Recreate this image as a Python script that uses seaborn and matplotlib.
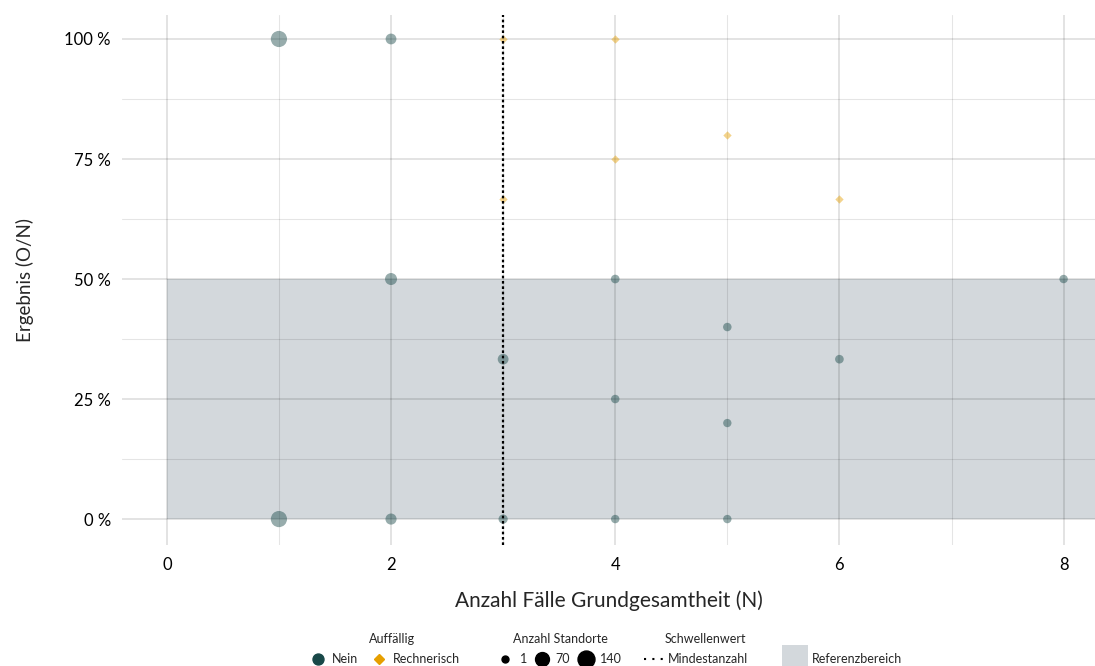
import numpy as np
import pandas as pd
import matplotlib.pyplot as plt
import seaborn as sns
from matplotlib.lines import Line2D
from matplotlib.patches import Rectangle

# data
n_cases = [1, 1, 2, 2, 2, 3, 3, 4, 4, 4, 5, 5, 5, 6, 8,
           3, 3, 4, 4, 5, 6]
result_pct = [100, 0, 100, 50, 0, 33.3, 0, 50, 25, 0, 40, 20, 0, 33.3, 50,
              100, 66.7, 100, 75, 80, 66.7]
n_sites = [150, 165, 35, 55, 40, 35, 12, 5, 3, 2, 3, 1, 2, 5, 2,
           1, 1, 1, 1, 1, 1]
flag = ['Nein'] * 15 + ['Rechnerisch'] * 6

df = pd.DataFrame({'N': n_cases, 'Ergebnis': result_pct,
                   'Standorte': n_sites, 'Auffällig': flag})

ref_low, ref_high = 0, 50
threshold = 3

sns.set_style('white')
plt.rcParams['font.family'] = ['Lato', 'DejaVu Sans']

teal = '#184848'
orange = '#E69F00'
ref_grey = '#d3d8dc'

W, H = 1095, 666
fig = plt.figure(figsize=(W / 100, H / 100), dpi=100)
ax = fig.add_axes([0.1114, 0.1817, 0.8886, 0.7958])
xmin, xmax = -0.4, 8.28

# Referenzbereich
ax.axhspan(ref_low, ref_high, xmin=(0 - xmin) / (xmax - xmin), xmax=1, color=ref_grey, zorder=0, lw=0)

# grid
for x in range(0, 9):
    ax.axvline(x, color='black', alpha=0.14 if x % 2 == 0 else 0.1, lw=1.1 if x % 2 == 0 else 0.8, zorder=1)
for y in np.arange(0, 101, 12.5):
    ax.axhline(y, color='black', alpha=0.14 if y % 25 == 0 else 0.1, lw=1.1 if y % 25 == 0 else 0.8, zorder=1)

sns.scatterplot(data=df[df['Auffällig'] == 'Nein'], x='N', y='Ergebnis',
                size='Standorte', sizes=(36, 136), size_norm=(1, 140),
                color=teal, marker='o', alpha=0.45, linewidth=0,
                legend=False, ax=ax, zorder=3)
sns.scatterplot(data=df[df['Auffällig'] == 'Rechnerisch'], x='N', y='Ergebnis',
                color=orange, marker='D', s=18, alpha=0.45, linewidth=0,
                legend=False, ax=ax, zorder=3)

ax.axvline(threshold, color='black', ls=(0, (1.2, 1.2)), lw=1.6, zorder=4)

ax.set_xlim(xmin, xmax)
ax.set_ylim(-5.4, 105)
ax.set_xticks([0, 2, 4, 6, 8])
ax.set_yticks([0, 25, 50, 75, 100])
ax.set_yticklabels(['0 %', '25 %', '50 %', '75 %', '100 %'])
ax.tick_params(axis='both', length=0, labelsize=12, colors='black')
ax.tick_params(axis='x', pad=9)
ax.tick_params(axis='y', pad=8)
ax.set_xlabel('Anzahl Fälle Grundgesamtheit (N)', fontsize=15, labelpad=12)
ax.set_ylabel('Ergebnis (O/N)', fontsize=13.5, labelpad=22)
sns.despine(ax=ax, left=True, bottom=True)


# legend drawn at figure level (pixel positions from the top-left)
def fx(px):
    return px / W


def fy(py):
    return 1 - py / H


row, title_row = 659, 639
fs = 9
for xt, txt in [(392, 'Auffällig'), (560, 'Anzahl Standorte'), (705, 'Schwellenwert')]:
    fig.text(fx(xt), fy(title_row), txt, ha='center', va='center', fontsize=fs)

markers = [(318, 'o', teal, 7.9, 'Nein', 332),
           (379, 'D', orange, 4.6, 'Rechnerisch', 393),
           (505, 'o', 'black', 5.0, '1', 520),
           (542, 'o', 'black', 10.0, '70', 555),
           (586, 'o', 'black', 12.2, '140', 600)]
for mx, mk, col, ms, lab, tx in markers:
    fig.add_artist(Line2D([fx(mx)], [fy(row)], marker=mk, color=col, markersize=ms,
                          ls='', transform=fig.transFigure))
    fig.text(fx(tx), fy(row), lab, ha='left', va='center', fontsize=fs)

fig.add_artist(Line2D([fx(644), fx(666)], [fy(row), fy(row)], color='black',
                      ls=(0, (1, 3)), lw=1.5, transform=fig.transFigure))
fig.text(fx(668), fy(row), 'Mindestanzahl', ha='left', va='center', fontsize=fs)

fig.add_artist(Rectangle((fx(782), 0), fx(808) - fx(782), fy(645), color=ref_grey,
                         transform=fig.transFigure, lw=0))
fig.text(fx(812), fy(row), 'Referenzbereich', ha='left', va='center', fontsize=fs)

fig.savefig('out.png', dpi=100)
